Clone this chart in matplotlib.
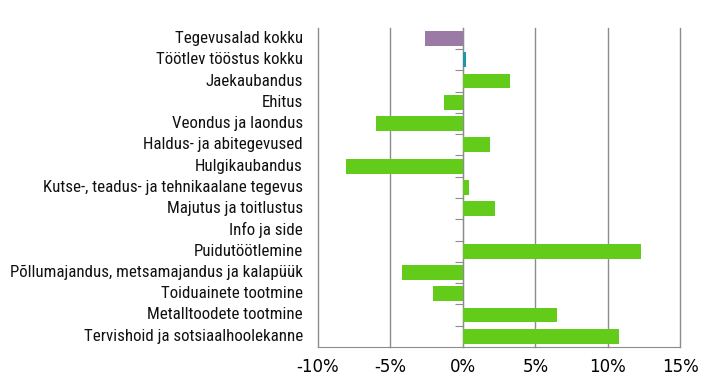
import matplotlib.pyplot as plt
from matplotlib.ticker import FuncFormatter
import matplotlib.transforms as mtransforms

categories = ['Tegevusalad kokku', 'Töötlev tööstus kokku', 'Jaekaubandus', 'Ehitus',
              'Veondus ja laondus', 'Haldus- ja abitegevused', 'Hulgikaubandus',
              'Kutse-, teadus- ja tehnikaalane tegevus', 'Majutus ja toitlustus',
              'Info ja side', 'Puidutöötlemine',
              'Põllumajandus, metsamajandus ja kalapüük', 'Toiduainete tootmine',
              'Metalltoodete tootmine', 'Tervishoid ja sotsiaalhoolekanne']
values = [-2.6, 0.2, 3.25, -1.3, -6.0, 1.9, -8.1, 0.4, 2.25, 0.0, 12.3, -4.2, -2.05, 6.5, 10.8]
colors = ['#9b7ba6', '#1a9aa8'] + ['#63cc1a'] * 13

fig = plt.figure(figsize=(7.02, 3.82), dpi=100)
ax = fig.add_axes([0.453, 0.092, 0.516, 0.835])

y = list(range(len(categories)))
ax.barh(y, values, height=0.7, color=colors, zorder=3)
ax.set_ylim(len(categories) - 0.5, -0.5)
ax.set_xlim(-10, 15)
ax.set_xticks([-10, -5, 0, 5, 10, 15])
ax.xaxis.set_major_formatter(FuncFormatter(lambda v, p: '{:.0f}%'.format(v)))
ax.grid(axis='x', color='#8c8c8c', linewidth=1, zorder=0)
for gl in ax.get_xgridlines():
    gl.set_clip_on(False)
ax.tick_params(axis='x', length=0, labelsize=12, pad=8)

# y axis drawn at 0, ticks at category boundaries
ax.spines['left'].set_position(('data', 0))
ax.spines['left'].set_color('#8c8c8c')
ax.spines['bottom'].set_color('#8c8c8c')
ax.spines['top'].set_visible(False)
ax.spines['right'].set_visible(False)
ax.set_yticks([i + 0.5 for i in range(len(categories) - 1)])
ax.set_yticklabels([])
ax.tick_params(axis='y', length=6, color='#8c8c8c')

# category labels at the left side of the plot
trans = mtransforms.blended_transform_factory(ax.transAxes, ax.transData)
for i, c in enumerate(categories):
    ax.text(-0.042, i, c, transform=trans, ha='right', va='center', fontsize=12.2,
            family=['Roboto Condensed', 'DejaVu Sans'], color='#111111')

fig.savefig('out.png', dpi=100)
